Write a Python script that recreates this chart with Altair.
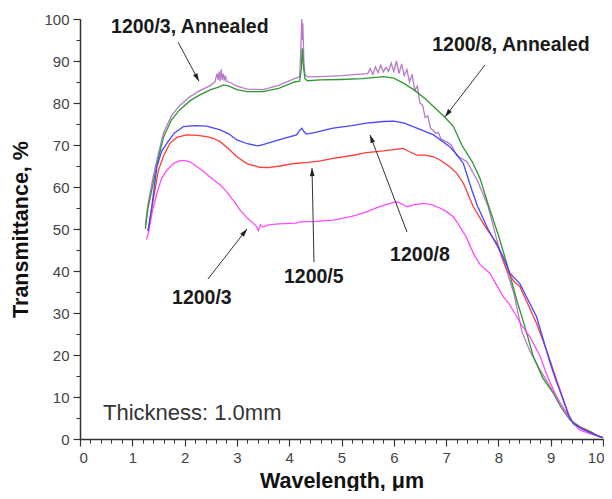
import altair as alt
import pandas as pd

# ---------------- data ----------------
green_x = [1.25,1.3,1.4,1.5,1.6,1.75,1.9,2.1,2.3,2.5,2.65,2.75,2.85,3.0,3.2,3.5,3.8,4.1,4.2,4.23,4.25,4.27,4.3,4.35,4.6,5.0,5.4,5.8,6.0,6.2,6.4,6.6,6.8,7.0,7.14,7.3,7.5,7.65,7.8,8.0,8.16,8.35,8.5,8.67,8.85,9.05,9.2,9.37,9.56,9.75,9.94,10.0]
green_y = [50,55,61,67,72,76,78.3,80.5,82,83.2,83.8,84.3,84.0,83.2,82.7,82.7,83.5,85.0,85.2,88,93,89,85.8,85.3,85.5,85.6,85.8,86.3,85.9,84.6,83,81,78.7,76.3,74.4,70,66,62,56,48.5,41.8,33.1,27,19.6,14.5,10.9,7.5,4.5,2.9,1.8,0.5,0.3]

purple_x = [1.25,1.3,1.4,1.5,1.6,1.75,1.9,2.1,2.3,2.5,2.58,2.62,2.64,2.66,2.68,2.7,2.72,2.74,2.76,2.78,2.8,2.85,3.0,3.2,3.5,3.8,4.1,4.2,4.22,4.24,4.25,4.26,4.28,4.3,4.35,4.6,5.0,5.3,5.5,5.55,5.6,5.65,5.7,5.75,5.8,5.85,5.9,5.95,6.0,6.05,6.1,6.15,6.2,6.25,6.3,6.35,6.4,6.45,6.5,6.55,6.6,6.65,6.7,6.75,6.8,6.85,6.9,7.0,7.1,7.2,7.4,7.6,7.8,8.0,8.15,8.3,8.45,8.6,8.8,9.0,9.2,9.4,9.6,9.8,10.0]
purple_y = [51,56,62.5,68,73,77,79.3,81.5,83,84.2,85,87,85.5,87.5,85.2,88,85.5,87,85.3,86.5,85.2,85,84,83.3,83.2,84.2,85.8,86.2,92,100,95,99,90,86.8,86.2,86.3,86.5,86.8,87,88.2,86.8,88.6,87.2,89,87.4,88.5,87.5,89.5,87.5,90,87,89.3,86.5,88,85,86.8,83,84,80,79.5,76.5,77,74,73.5,72.8,73,71.5,70.8,70,67.5,66,61.5,55.5,46,40.5,34.5,25.5,21,16.4,12.2,8.2,4.3,2.4,1.3,0.3]

blue_x = [1.3,1.38,1.47,1.56,1.66,1.8,1.98,2.2,2.42,2.68,2.85,3.0,3.2,3.4,3.5,3.8,4.14,4.2,4.24,4.28,4.33,4.5,4.84,5.2,5.48,5.8,6.0,6.2,6.44,6.76,7.07,7.2,7.33,7.5,7.6,7.8,8.0,8.09,8.22,8.41,8.55,8.73,8.85,8.99,9.1,9.24,9.35,9.43,9.6,9.81,10.0]
blue_y = [49.5,56,64.8,68.5,70.4,72.8,74.4,74.6,74.5,73.6,72.6,71.2,70.3,69.8,70.1,71.2,72.4,73.5,74,73.2,72.6,73,74,74.6,75.2,75.6,75.7,75.2,74,72.4,69.6,67.8,65.6,59,55.5,50,45.5,43.4,39.5,37,33.5,29.1,24,18.1,14,9.3,5.5,3.7,2.4,1.2,0.3]

red_x = [1.3,1.4,1.5,1.6,1.72,1.85,2.04,2.25,2.42,2.55,2.68,2.85,3.0,3.2,3.44,3.6,3.82,4.1,4.33,4.6,4.84,5.2,5.48,5.8,6.18,6.3,6.44,6.6,6.76,6.9,7.07,7.2,7.33,7.52,7.75,7.97,8.16,8.3,8.41,8.55,8.73,8.85,9.0,9.1,9.24,9.35,9.45,9.6,9.8,10.0]
red_y = [49.5,57,64,67.5,70.4,71.8,72.4,72.3,72,71.6,70.8,69,67.2,65.5,64.7,64.6,65,65.6,65.8,66.2,66.8,67.5,68.2,68.6,69.2,68.4,67.6,67.6,67.2,66.3,64.8,63.3,60.9,55.3,50.5,46.6,40.2,37.5,36.3,32.5,27.5,23.5,18.3,14.5,9.5,5.5,3.5,2.6,1.3,0.3]

magenta_x = [1.27,1.31,1.38,1.47,1.56,1.66,1.8,1.91,2.0,2.1,2.3,2.55,2.7,2.8,2.95,3.06,3.2,3.31,3.38,3.41,3.45,3.5,3.6,3.8,4.14,4.21,4.5,4.84,5.2,5.48,5.7,5.93,6.06,6.15,6.25,6.4,6.56,6.72,6.88,7.0,7.14,7.25,7.39,7.52,7.65,7.84,7.95,8.09,8.2,8.35,8.45,8.6,8.7,8.8,8.92,9.05,9.18,9.3,9.43,9.56,9.75,9.94,10.0]
magenta_y = [47.5,49,54,58.5,62,64,65.7,66.3,66.3,66,64.3,61.7,60.3,58.9,56.5,54.5,52.6,51.4,50.5,49.6,51,50.5,51,51.2,51.4,51.7,51.8,52.1,53,54.1,55.2,56.1,56.5,56,55.3,55.8,56.1,55.8,55,54.2,52.9,50.8,48,44.2,41.5,39.4,37,33.9,32.3,29.1,27,24.4,22,19.6,15.5,11.7,8.5,6.1,3.8,2.1,1.3,0.5,0.3]

series = [
    ("1200/3, Annealed", purple_x, purple_y, "#b67ac6"),
    ("1200/8, Annealed", green_x, green_y, "#2e9632"),
    ("1200/3", magenta_x, magenta_y, "#ff4cff"),
    ("1200/5", red_x, red_y, "#ff3b3b"),
    ("1200/8", blue_x, blue_y, "#4646ff"),
]

label_text = ["1200/3, Annealed", "1200/8, Annealed", "1200/3", "1200/5", "1200/8"]
label_x = [2.10, 8.24, 2.33, 4.47, 6.50]
label_y = [98.1, 93.8, 33.6, 38.6, 43.8]

arrow_x1 = [1.874, 7.74, 2.447, 4.474, 6.252]
arrow_y1 = [94.5, 89.0, 38.1, 42.1, 49.3]
arrow_x2 = [2.275, 6.98, 3.193, 4.436, 5.545]
arrow_y2 = [85.2, 76.7, 50.0, 64.5, 72.4]
arrow_angle = [151.7, 217.6, 38.0, 358.8, 339.1]

note_text = ["Thickness: 1.0mm"]
note_x = [0.44]
note_y = [6.2]

FONT = "Liberation Sans"

xscale = alt.Scale(domain=[0, 10], nice=False, zero=False)
yscale = alt.Scale(domain=[0, 100], nice=False, zero=False)

x_axis = alt.Axis(values=list(range(0, 11)), title="Wavelength, \u03bcm", orient="bottom",
                  labelFontSize=15, labelColor="#444444", labelFont=FONT, labelPadding=4,
                  titleFontSize=21.5, titleFont=FONT, titleFontWeight="bold", titleColor="#111111",
                  titlePadding=5, tickSize=7, tickColor="#333333", domainColor="#333333",
                  domainWidth=1.5, tickWidth=1.2, grid=False, labelFlush=True, labelFlushOffset=1)
y_axis = alt.Axis(values=list(range(0, 101, 10)), title="Transmittance, %", orient="left",
                  labelFontSize=15, labelColor="#444444", labelFont=FONT, labelPadding=4,
                  titleFontSize=21.5, titleFont=FONT, titleFontWeight="bold", titleColor="#111111",
                  titlePadding=11, tickSize=7, tickColor="#333333", domainColor="#333333",
                  domainWidth=1.5, tickWidth=1.2, grid=False, labelFlush=False)

x_minor = alt.Axis(values=[i / 5 for i in range(0, 51)], labels=False, title=None, orient="bottom",
                   tickSize=4, tickColor="#333333", tickWidth=1.0, domain=False, grid=False)
y_minor = alt.Axis(values=list(range(0, 101, 5)), labels=False, title=None, orient="left",
                   tickSize=4, tickColor="#333333", tickWidth=1.0, domain=False, grid=False)

layers = []
for i, (name, xs, ys, col) in enumerate(series):
    df = pd.DataFrame({"x": xs, "y": ys, "series": name})
    if i == 0:
        enc_x = alt.X("x:Q", scale=xscale, axis=x_axis)
        enc_y = alt.Y("y:Q", scale=yscale, axis=y_axis)
    else:
        enc_x = alt.X("x:Q", scale=xscale, axis=None)
        enc_y = alt.Y("y:Q", scale=yscale, axis=None)
    layers.append(
        alt.Chart(df).mark_line(color=col, strokeWidth=1.3, interpolate="linear")
        .encode(x=enc_x, y=enc_y, order="x:Q")
    )

arrows_df = pd.DataFrame({"x1": arrow_x1, "y1": arrow_y1, "x2": arrow_x2, "y2": arrow_y2,
                          "angle": arrow_angle})
arrow_lines = alt.Chart(arrows_df).mark_rule(color="#333333", strokeWidth=1).encode(
    x=alt.X("x1:Q", scale=xscale, axis=None), y=alt.Y("y1:Q", scale=yscale, axis=None),
    x2="x2:Q", y2="y2:Q")
arrow_heads = alt.Chart(arrows_df).mark_point(
    shape="M0,0L-0.6,2L0.6,2Z", filled=True, color="#222222", size=64, opacity=1
).encode(x=alt.X("x2:Q", scale=xscale, axis=None), y=alt.Y("y2:Q", scale=yscale, axis=None),
         angle=alt.Angle("angle:Q", scale=None))

labels_df = pd.DataFrame({"t": label_text, "x": label_x, "y": label_y})
labels = alt.Chart(labels_df).mark_text(font=FONT, fontSize=19.5, fontWeight="bold",
                                        color="#1a1a1a", align="center", baseline="middle").encode(
    x=alt.X("x:Q", scale=xscale, axis=None), y=alt.Y("y:Q", scale=yscale, axis=None), text="t:N")

note_df = pd.DataFrame({"t": note_text, "x": note_x, "y": note_y})
note = alt.Chart(note_df).mark_text(font=FONT, fontSize=22, color="#333333",
                                    align="left", baseline="middle").encode(
    x=alt.X("x:Q", scale=xscale, axis=x_minor), y=alt.Y("y:Q", scale=yscale, axis=y_minor),
    text="t:N")

chart = alt.layer(note, *layers, arrow_lines, arrow_heads, labels).resolve_axis(
    x="independent", y="independent"
).properties(
    width=523, height=420,
    autosize=alt.AutoSizeParams(type="none"),
    padding={"left": 72, "top": 11, "right": 1, "bottom": 52},
    background="white",
).configure_view(stroke=None)

chart.save("out.html", embed_options={"renderer": "svg", "actions": False})
